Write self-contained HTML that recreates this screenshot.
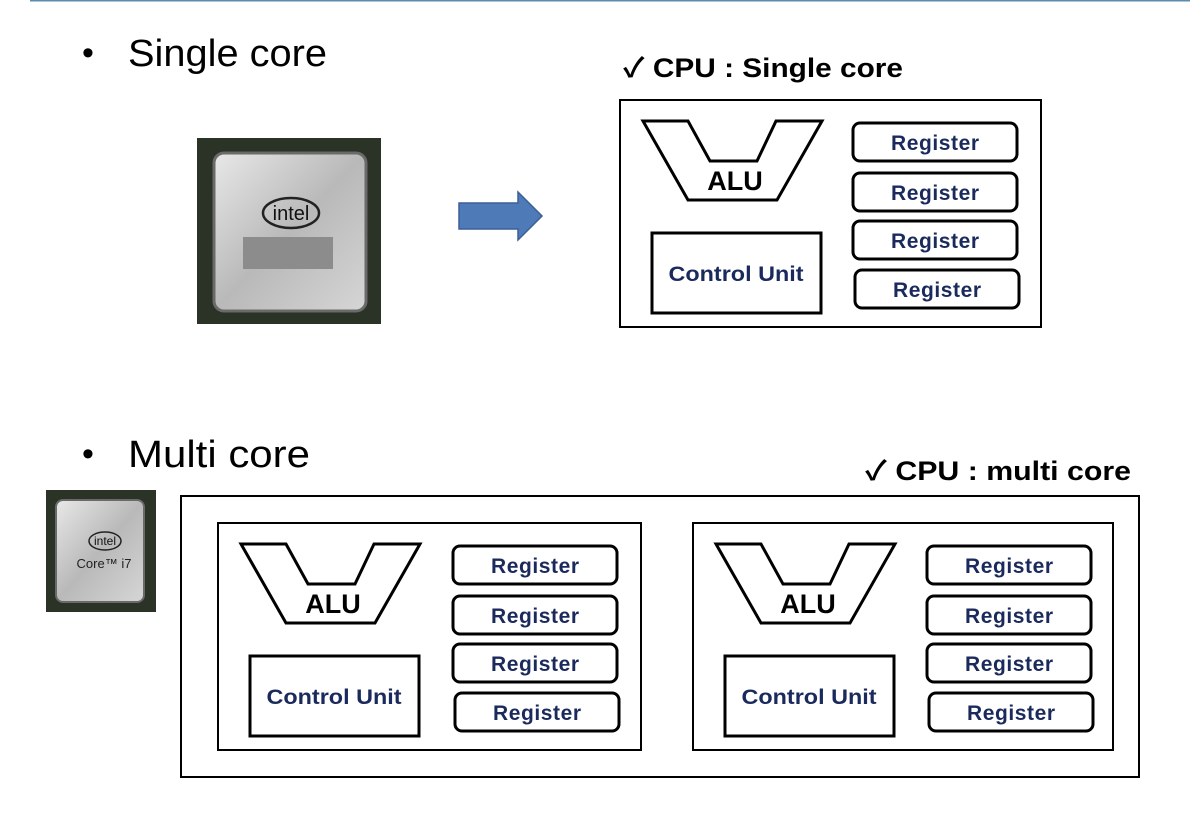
<!DOCTYPE html>
<html><head><meta charset="utf-8"><style>
html,body{margin:0;padding:0;background:#fff;}
svg{display:block;}
text{font-family:"Liberation Sans","Noto Sans CJK KR",sans-serif;}
.reg{fill:#fff;stroke:#000;stroke-width:3;}
.rt{font-size:21px;font-weight:bold;fill:#1b2a5c;text-anchor:middle;}
.alu{font-size:27px;font-weight:bold;fill:#000;text-anchor:middle;}
</style></head><body>
<svg width="1190" height="814" viewBox="0 0 1190 814" xmlns="http://www.w3.org/2000/svg">
<defs>
<linearGradient id="sil" x1="0" y1="0" x2="1" y2="1">
<stop offset="0" stop-color="#e8e8e8"/><stop offset="0.5" stop-color="#b9b9b9"/><stop offset="1" stop-color="#d6d6d6"/>
</linearGradient>
</defs>
<line x1="30" y1="0.5" x2="1190" y2="0.5" stroke="#5b8ca8" stroke-width="2"/>

<text x="82" y="64" font-size="34">•</text>
<text x="128" y="66" font-size="38" textLength="199" lengthAdjust="spacingAndGlyphs">Single core</text>
<text x="82" y="465" font-size="34">•</text>
<text x="128" y="467" font-size="38" textLength="182" lengthAdjust="spacingAndGlyphs">Multi core</text>

<text x="623" y="77" font-size="27" font-weight="bold" textLength="280" lengthAdjust="spacingAndGlyphs">✓ CPU : Single core</text>
<text x="865" y="480" font-size="27" font-weight="bold" textLength="266" lengthAdjust="spacingAndGlyphs">✓ CPU : multi core</text>

<!-- chip 1 -->
<rect x="197" y="138" width="184" height="186" fill="#2a3326"/>
<rect x="214" y="153" width="152" height="158" rx="10" fill="url(#sil)" stroke="#6a6a6a" stroke-width="3"/>
<rect x="243" y="237" width="90" height="32" fill="#8c8c8c"/>
<ellipse cx="291" cy="213" rx="28" ry="15" fill="none" stroke="#222" stroke-width="2.5"/>
<text x="291" y="220" font-size="20" text-anchor="middle" fill="#111">intel</text>

<!-- arrow -->
<polygon points="459,203 518,203 518,192 542,216 518,240 518,229 459,229" fill="#4f7ab8" stroke="#3a5f95" stroke-width="1.5"/>

<!-- chip 2 -->
<rect x="46" y="490" width="110" height="122" fill="#2a3326"/>
<rect x="56" y="500" width="88" height="102" rx="7" fill="url(#sil)" stroke="#6a6a6a" stroke-width="2"/>
<ellipse cx="105" cy="541" rx="16" ry="9" fill="none" stroke="#222" stroke-width="1.5"/>
<text x="105" y="545" font-size="12" text-anchor="middle" fill="#111">intel</text>
<text x="104" y="568" font-size="13" text-anchor="middle" fill="#222">Core™ i7</text>

<!-- multi outer -->
<rect x="181" y="496" width="958" height="281" fill="none" stroke="#000" stroke-width="2"/>

<g transform="translate(620,100)">
<rect x="0" y="0" width="421" height="227" fill="none" stroke="#000" stroke-width="2"/>
<polygon points="23,21 68,21 90,61 137,61 156,21 202,21 157,100 68,100" fill="#fff" stroke="#000" stroke-width="3"/>
<text x="115" y="90" class="alu">ALU</text>
<rect x="32" y="133" width="169" height="80" fill="none" stroke="#000" stroke-width="3"/>
<text x="116" y="181" class="rt" textLength="135" lengthAdjust="spacingAndGlyphs">Control Unit</text>
<rect x="233" y="23" width="164" height="38" rx="7" class="reg"/><text x="315" y="50" class="rt" textLength="88">Register</text>
<rect x="233" y="73" width="164" height="38" rx="7" class="reg"/><text x="315" y="100" class="rt" textLength="88">Register</text>
<rect x="233" y="121" width="164" height="38" rx="7" class="reg"/><text x="315" y="148" class="rt" textLength="88">Register</text>
<rect x="235" y="170" width="164" height="38" rx="7" class="reg"/><text x="317" y="197" class="rt" textLength="88">Register</text>
</g>

<g transform="translate(218,523)">
<rect x="0" y="0" width="423" height="227" fill="none" stroke="#000" stroke-width="2"/>
<polygon points="23,21 68,21 90,61 137,61 156,21 202,21 157,100 68,100" fill="#fff" stroke="#000" stroke-width="3"/>
<text x="115" y="90" class="alu">ALU</text>
<rect x="32" y="133" width="169" height="80" fill="none" stroke="#000" stroke-width="3"/>
<text x="116" y="181" class="rt" textLength="135" lengthAdjust="spacingAndGlyphs">Control Unit</text>
<rect x="235" y="23" width="164" height="38" rx="7" class="reg"/><text x="317" y="50" class="rt" textLength="88">Register</text>
<rect x="235" y="73" width="164" height="38" rx="7" class="reg"/><text x="317" y="100" class="rt" textLength="88">Register</text>
<rect x="235" y="121" width="164" height="38" rx="7" class="reg"/><text x="317" y="148" class="rt" textLength="88">Register</text>
<rect x="237" y="170" width="164" height="38" rx="7" class="reg"/><text x="319" y="197" class="rt" textLength="88">Register</text>
</g>

<g transform="translate(693,523)">
<rect x="0" y="0" width="420" height="227" fill="none" stroke="#000" stroke-width="2"/>
<polygon points="23,21 68,21 90,61 137,61 156,21 202,21 157,100 68,100" fill="#fff" stroke="#000" stroke-width="3"/>
<text x="115" y="90" class="alu">ALU</text>
<rect x="32" y="133" width="169" height="80" fill="none" stroke="#000" stroke-width="3"/>
<text x="116" y="181" class="rt" textLength="135" lengthAdjust="spacingAndGlyphs">Control Unit</text>
<rect x="234" y="23" width="164" height="38" rx="7" class="reg"/><text x="316" y="50" class="rt" textLength="88">Register</text>
<rect x="234" y="73" width="164" height="38" rx="7" class="reg"/><text x="316" y="100" class="rt" textLength="88">Register</text>
<rect x="234" y="121" width="164" height="38" rx="7" class="reg"/><text x="316" y="148" class="rt" textLength="88">Register</text>
<rect x="236" y="170" width="164" height="38" rx="7" class="reg"/><text x="318" y="197" class="rt" textLength="88">Register</text>
</g>
</svg>
</body></html>
